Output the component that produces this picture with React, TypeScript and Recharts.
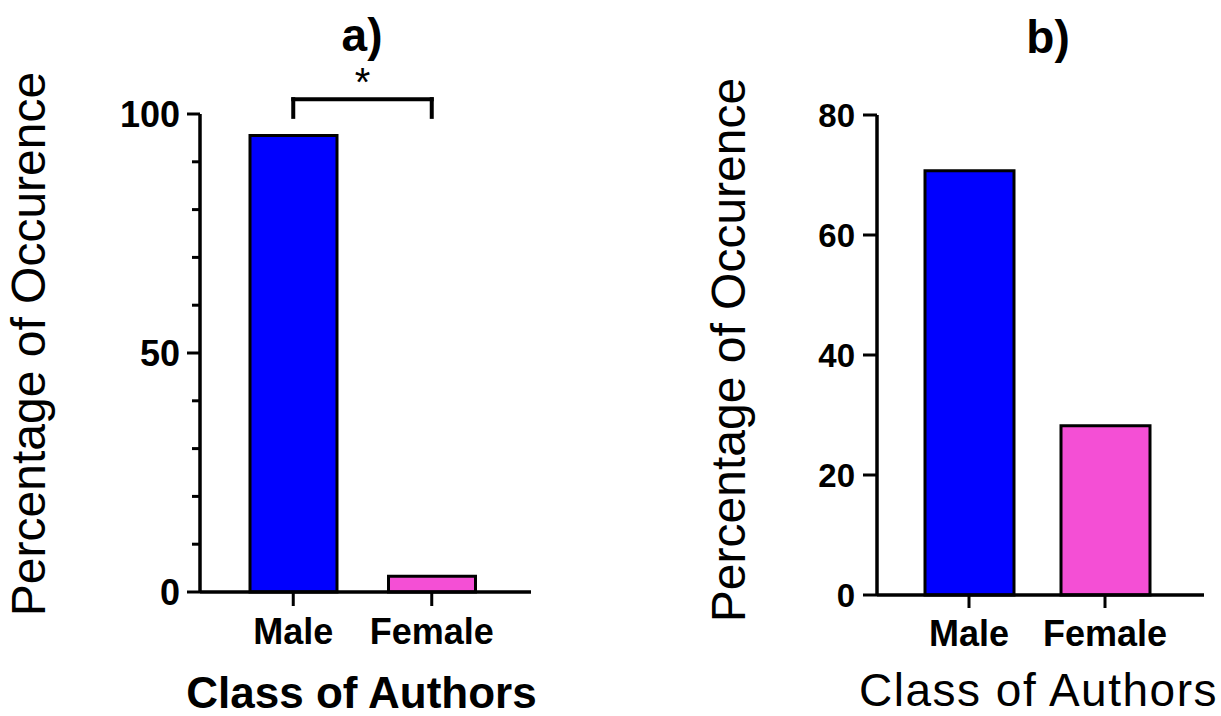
import React from "react";
import { BarChart, Bar, XAxis, YAxis, Cell, ReferenceLine, Label } from "recharts";

const categories = ["Male", "Female"];
const valuesA = [95.5, 3.3];
const valuesB = [70.7, 28.2];
const colors = ["#0000FF", "#F44FD5"];
const ticksA = [0, 10, 20, 30, 40, 50, 60, 70, 80, 90, 100];
const majorTicksA = [0, 50, 100];
const ticksB = [0, 20, 40, 60, 80];
const bracketY = 103.1;
const bracketLegY = 99.4;

const yTitle = "Percentage of Occurence";
const xTitle = "Class of Authors";

const dataA = categories.map((c, i) => ({ name: c, value: valuesA[i] }));
const dataB = categories.map((c, i) => ({ name: c, value: valuesB[i] }));

const FONT = "'Liberation Sans', Arial, Helvetica, sans-serif";

const TickA = (props: any) => {
  const { x, y, payload } = props;
  const major = majorTicksA.includes(payload.value);
  return (
    <g>
      <line x1={major ? x + 7 : x + 12} x2={x + 20} y1={y} y2={y} stroke="#000" strokeWidth={3} />
      {major && (
        <text x={x} y={y} dy="0.36em" textAnchor="end" fontFamily={FONT} fontWeight="bold" fontSize={36} fill="#000">
          {payload.value}
        </text>
      )}
    </g>
  );
};

const TickB = (props: any) => {
  const { x, y, payload } = props;
  return (
    <g>
      <line x1={x + 8} x2={x + 22} y1={y} y2={y} stroke="#000" strokeWidth={3} />
      <text x={x} y={y} dy="0.36em" textAnchor="end" fontFamily={FONT} fontWeight="bold" fontSize={33} fill="#000">
        {payload.value}
      </text>
    </g>
  );
};

const XTick = (props: any) => {
  const { x, y, payload } = props;
  return (
    <g>
      <line x1={x} x2={x} y1={y - 26} y2={y - 12} stroke="#000" strokeWidth={3} />
      <text x={x} y={y} dy="0.71em" textAnchor="middle" fontFamily={FONT} fontWeight="bold" fontSize={36} fill="#000">
        {payload.value}
      </text>
    </g>
  );
};

const yLabel = (offsetX: number, offsetY: number) => (props: any) => {
  const vb = props.viewBox || {};
  const right = (vb.x ?? 0) + (vb.width ?? 0);
  const cx = right - offsetX;
  const cy = (vb.y ?? 0) + (vb.height ?? 0) / 2 + offsetY;
  return (
    <text x={cx} y={cy} transform={`rotate(-90 ${cx} ${cy})`} textAnchor="middle" fontFamily={FONT} fontSize={48} fill="#000">
      {yTitle}
    </text>
  );
};

const xLabel = (offsetX: number, baseline: number, bold: boolean, spacing: number) => (props: any) => {
  const vb = props.viewBox || {};
  const cx = (vb.x ?? 0) + (vb.width ?? 0) / 2 + offsetX;
  return (
    <text x={cx} y={baseline} textAnchor="middle" fontFamily={FONT} fontWeight={bold ? "bold" : "normal"} fontSize={bold ? 44 : 46} letterSpacing={spacing} fill="#000">
      {xTitle}
    </text>
  );
};

export default function App() {
  return (
    <div style={{ position: "absolute", left: 0, top: 0, width: 1221, height: 716, background: "#fff", overflow: "hidden" }}>
      <div style={{ position: "absolute", left: 0, top: 0 }}>
        <BarChart width={560} height={716} data={dataA} margin={{ top: 114, right: 29, bottom: 84, left: 140 }}>
          <text x={362} y={51} textAnchor="middle" fontFamily={FONT} fontWeight="bold" fontSize={46} fill="#000">a)</text>
          <XAxis
            dataKey="name"
            height={40}
            padding={{ left: 24, right: 30 }}
            axisLine={{ stroke: "#000", strokeWidth: 3.5 }}
            tickLine={false}
            tickSize={14}
            tickMargin={12}
            tick={<XTick />}
            interval={0}
          >
            <Label content={xLabel(-4, 708, true, 0)} />
          </XAxis>
          <YAxis
            domain={[0, 100]}
            ticks={ticksA}
            width={60}
            interval={0}
            axisLine={{ stroke: "#000", strokeWidth: 3.5 }}
            tickLine={false}
            tickSize={13}
            tickMargin={7}
            tick={<TickA />}
          >
            <Label content={yLabel(155, -9)} />
          </YAxis>
          <Bar dataKey="value" barSize={87} stroke="#000" strokeWidth={3} isAnimationActive={false}>
            {dataA.map((d, i) => (
              <Cell key={d.name} fill={colors[i]} />
            ))}
          </Bar>
          <ReferenceLine
            segment={[{ x: "Male", y: bracketY }, { x: "Female", y: bracketY }]}
            stroke="#000"
            strokeWidth={4}
            strokeLinecap="square"
            ifOverflow="visible"
          >
            <Label value="*" position="top" offset={3} fontFamily={FONT} fontSize={40} fill="#000" />
          </ReferenceLine>
          <ReferenceLine segment={[{ x: "Male", y: bracketY }, { x: "Male", y: bracketLegY }]} stroke="#000" strokeWidth={4} strokeLinecap="square" ifOverflow="visible" />
          <ReferenceLine segment={[{ x: "Female", y: bracketY }, { x: "Female", y: bracketLegY }]} stroke="#000" strokeWidth={4} strokeLinecap="square" ifOverflow="visible" />
        </BarChart>
      </div>
      <div style={{ position: "absolute", left: 680, top: 0 }}>
        <BarChart width={541} height={716} data={dataB} margin={{ top: 115, right: 17, bottom: 81, left: 137 }}>
          <text x={368} y={53} textAnchor="middle" fontFamily={FONT} fontWeight="bold" fontSize={46} fill="#000">b)</text>
          <XAxis
            dataKey="name"
            height={40}
            padding={{ left: 24, right: 31 }}
            axisLine={{ stroke: "#000", strokeWidth: 3.5 }}
            tickLine={false}
            tickSize={14}
            tickMargin={11}
            tick={<XTick />}
            interval={0}
          >
            <Label content={xLabel(-2, 706, false, 1.5)} />
          </XAxis>
          <YAxis
            domain={[0, 80]}
            ticks={ticksB}
            width={60}
            interval={0}
            axisLine={{ stroke: "#000", strokeWidth: 3.5 }}
            tickLine={false}
            tickSize={14}
            tickMargin={8}
            tick={<TickB />}
          >
            <Label content={yLabel(132, -5)} />
          </YAxis>
          <Bar dataKey="value" barSize={89} stroke="#000" strokeWidth={3} isAnimationActive={false}>
            {dataB.map((d, i) => (
              <Cell key={d.name} fill={colors[i]} />
            ))}
          </Bar>
        </BarChart>
      </div>
    </div>
  );
}
